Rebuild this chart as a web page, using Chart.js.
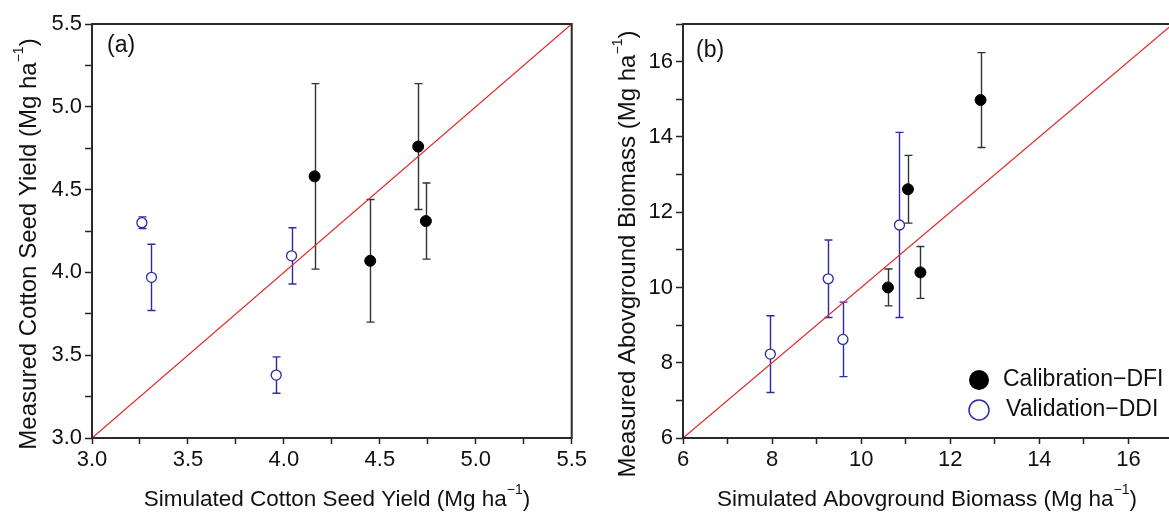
<!DOCTYPE html>
<html><head><meta charset="utf-8">
<script src="https://cdn.jsdelivr.net/npm/chart.js@4.4.1/dist/chart.umd.min.js"></script>
<style>
html,body{margin:0;padding:0;background:#fff;overflow:hidden;width:1169px;height:516px;}
#wa{position:absolute;left:0;top:0;width:590px;height:516px;}
#wb{position:absolute;left:590px;top:0;width:590px;height:516px;}
</style></head><body>
<div id="wa"><canvas id="ca" width="590" height="516"></canvas></div>
<div id="wb"><canvas id="cb" width="590" height="516"></canvas></div>
<script>
// ---- Data: panel (a) cotton seed yield (Mg/ha)
const calA_x = [4.16, 4.45, 4.70, 4.74];
const calA_y = [4.58, 4.07, 4.76, 4.31];
const calA_err = [0.56, 0.37, 0.38, 0.23];
const valA_x = [3.26, 3.31, 3.96, 4.04];
const valA_y = [4.30, 3.97, 3.38, 4.10];
const valA_err = [0.035, 0.20, 0.11, 0.17];
// ---- Data: panel (b) aboveground biomass (Mg/ha)
const calB_x = [10.60, 11.05, 11.33, 12.68];
const calB_y = [10.00, 12.61, 10.40, 14.98];
const calB_err = [0.49, 0.90, 0.69, 1.26];
const valB_x = [7.96, 9.26, 9.59, 10.86];
const valB_y = [8.23, 10.23, 8.62, 11.66];
const valB_err = [1.02, 1.03, 0.99, 2.46];
// ---- Axis ranges / tick labels
const rangeA = [3.0, 5.5];
const rangeB = [6, 17];
const labelsA = ['3.0','3.5','4.0','4.5','5.0','5.5'];
const labelsB = ['6','8','10','12','14','16'];
const seriesNames = ['Calibration\u2212DFI', 'Validation\u2212DDI'];

const FONT = '"Liberation Sans", Arial, Helvetica, sans-serif';
const BLUE = '#2b2ba6';
const RED = '#de2b2b';

function toPts(xs, ys){ return xs.map((x,i)=>({x:x, y:ys[i]})); }

const errorBars = {
  id:'errorBars',
  beforeDatasetsDraw(chart){
    const ctx = chart.ctx, xs = chart.scales.x, ys = chart.scales.y;
    chart.data.datasets.forEach(ds=>{
      if(!ds.errors) return;
      ctx.save(); ctx.strokeStyle = ds.errColor; ctx.lineWidth = 1.4;
      ds.data.forEach((p,i)=>{
        const e = ds.errors[i];
        const px = Math.round(xs.getPixelForValue(p.x))+0.5;
        const top = ys.getPixelForValue(p.y+e), bot = ys.getPixelForValue(p.y-e);
        ctx.beginPath();
        ctx.moveTo(px, top); ctx.lineTo(px, bot);
        ctx.moveTo(px-4, top); ctx.lineTo(px+4, top);
        ctx.moveTo(px-4, bot); ctx.lineTo(px+4, bot);
        ctx.stroke();
      });
      ctx.restore();
    });
  }
};

function drawSup(ctx, main, sup, close, size){
  ctx.font = size + 'px ' + FONT;
  const w1 = ctx.measureText(main).width;
  const w3 = ctx.measureText(close).width;
  ctx.font = Math.round(size*0.6) + 'px ' + FONT;
  const w2 = ctx.measureText(sup).width;
  const total = w1 + w2 + w3;
  let x = -total/2;
  ctx.textAlign = 'left'; ctx.textBaseline = 'middle';
  ctx.font = size + 'px ' + FONT;
  ctx.fillText(main, x, 0); x += w1;
  ctx.font = Math.round(size*0.6) + 'px ' + FONT;
  ctx.fillText(sup, x, -size*0.42); x += w2;
  ctx.font = size + 'px ' + FONT;
  ctx.fillText(close, x, 0);
}

function decorations(cfg){
  return {
    id:'decor',
    afterDatasetsDraw(chart){
      const ctx = chart.ctx, a = chart.chartArea;
      ctx.save();
      ctx.strokeStyle = '#2a2a2a'; ctx.lineWidth = 2;
      ctx.strokeRect(a.left, a.top, a.right-a.left, a.bottom-a.top);
      ctx.fillStyle = '#111';
      ctx.font = '23px ' + FONT; ctx.textAlign='left'; ctx.textBaseline='middle';
      ctx.fillText(cfg.panel, cfg.panelX, cfg.panelY);
      ctx.save(); ctx.translate(cfg.xtX, cfg.xtY);
      drawSup(ctx, cfg.xTitle, '\u22121', ')', 22.5);
      ctx.restore();
      ctx.save(); ctx.translate(cfg.ytX, cfg.ytY); ctx.rotate(-Math.PI/2);
      drawSup(ctx, cfg.yTitle, '\u22121', ')', 24);
      ctx.restore();
      if(cfg.legend){
        const L = cfg.legend;
        ctx.beginPath(); ctx.arc(L.x, L.y1, 10, 0, Math.PI*2); ctx.fillStyle='#000'; ctx.fill();
        ctx.beginPath(); ctx.arc(L.x, L.y2, 10, 0, Math.PI*2); ctx.fillStyle='#fff'; ctx.fill();
        ctx.strokeStyle = BLUE; ctx.lineWidth = 1.5; ctx.stroke();
        ctx.fillStyle = '#111'; ctx.font = '23px ' + FONT; ctx.textAlign='left'; ctx.textBaseline='middle';
        ctx.fillText(seriesNames[0], L.tx, L.y1);
        ctx.fillText(seriesNames[1], L.tx+3, L.y2);
      }
      ctx.restore();
    }
  };
}

function axis(range, step, labels, fitKey, fitVal, tickLen, fmt){
  return {
    type:'linear', min:range[0], max:range[1],
    border:{display:false},
    grid:{drawOnChartArea:false, drawTicks:true, tickLength:tickLen, tickColor:'#222', tickWidth:1.5},
    ticks:{
      stepSize:step, autoSkip:false, maxRotation:0, color:'#111', padding:3,
      font:{family:FONT, size:22},
      callback:(v)=>{ const s = fmt(v); return labels.includes(s) ? s : ''; }
    },
    afterFit:(s)=>{ s[fitKey] = fitVal; }
  };
}

function makeChart(id, cal, val, range, step, labels, fmt, padRight, yWidth, deco){
  const lineData = [{x:range[0], y:range[0]}, {x:range[1], y:range[1]}];
  return new Chart(document.getElementById(id), {
    type:'scatter',
    data:{datasets:[
      {label:'1:1', data:lineData, showLine:true, borderColor:RED, borderWidth:1.3, pointRadius:0, order:3},
      {label:seriesNames[0], data:cal.pts, errors:cal.err, errColor:'#333', backgroundColor:'#000', borderColor:'#000', pointRadius:5.5, borderWidth:1, order:1},
      {label:seriesNames[1], data:val.pts, errors:val.err, errColor:BLUE, backgroundColor:'#fff', borderColor:BLUE, pointRadius:5, borderWidth:1.3, order:2}
    ]},
    options:{
      responsive:false, animation:false, devicePixelRatio:1,
      layout:{padding:{top:24, right:padRight, left:0, bottom:0}},
      plugins:{legend:{display:false}, tooltip:{enabled:false}},
      scales:{
        x: axis(range, step, labels, 'height', 78, 6, fmt),
        y: axis(range, step, labels, 'width', yWidth, 7, fmt)
      }
    },
    plugins:[errorBars, decorations(deco)]
  });
}

const fmtA = v => (Math.round(v*100)/100).toFixed(1);
const fmtB = v => String(Math.round(v*1000)/1000);

makeChart('ca', {pts:toPts(calA_x, calA_y), err:calA_err}, {pts:toPts(valA_x, valA_y), err:valA_err},
  rangeA, 0.25, labelsA, fmtA, 8, 92,
  {panel:'(a)', panelX:107, panelY:46, xTitle:'Simulated Cotton Seed Yield (Mg ha', xtX:337, xtY:500,
   yTitle:'Measured Cotton Seed Yield (Mg ha', ytX:29, ytY:244});

makeChart('cb', {pts:toPts(calB_x, calB_y), err:calB_err}, {pts:toPts(valB_x, valB_y), err:valB_err},
  rangeB, 1, labelsB, fmtB, 7, 93,
  {panel:'(b)', panelX:106, panelY:51, xTitle:'Simulated Abovground Biomass (Mg ha', xtX:337, xtY:500,
   yTitle:'Measured Abovground Biomass (Mg ha', ytX:38, ytY:254,
   legend:{x:389, y1:380, y2:410, tx:413}});
</script>
</body></html>
